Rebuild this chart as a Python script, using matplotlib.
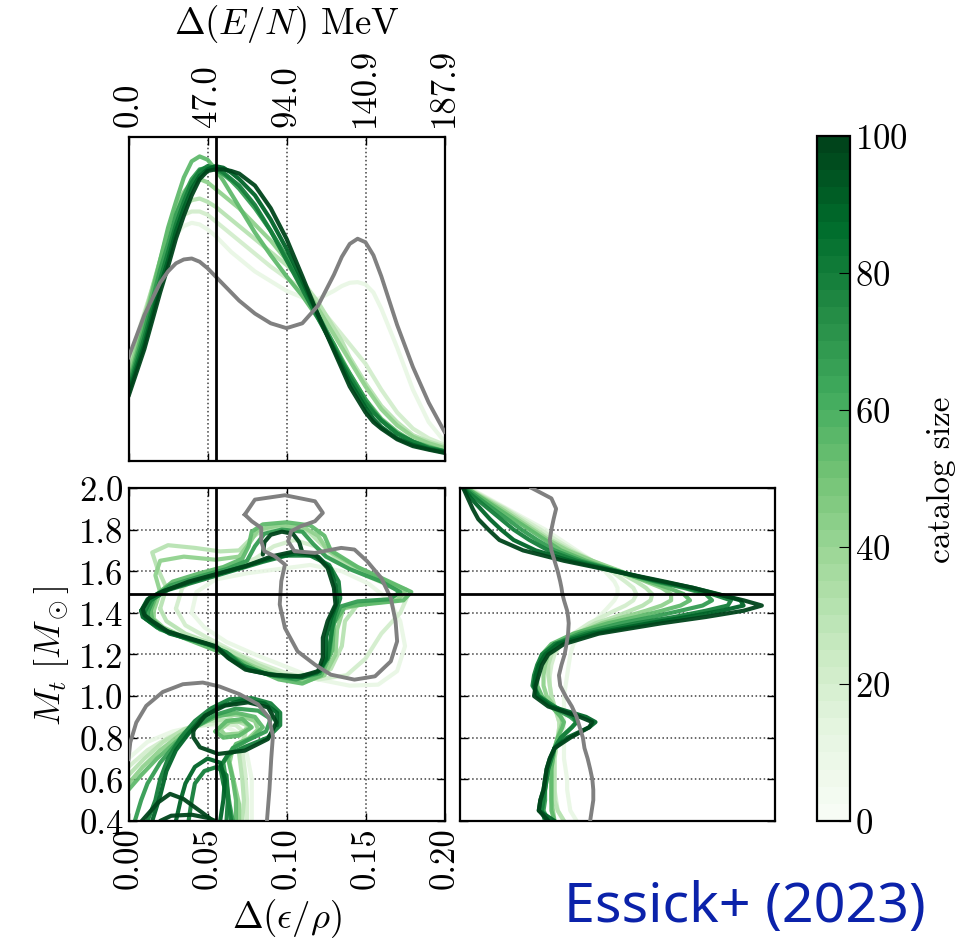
import numpy as np
import matplotlib
matplotlib.use('Agg')
import matplotlib as mpl
import matplotlib.pyplot as plt
from matplotlib.colors import Normalize

plt.rcParams['font.family'] = 'serif'
plt.rcParams['font.serif'] = ['cmr10']
plt.rcParams['mathtext.fontset'] = 'cm'
plt.rcParams['axes.formatter.use_mathtext'] = True

# #
# Data
# #

catalog_sizes = [10, 20, 30, 42, 55, 68, 80, 90, 100]
truth_eps = 0.0555
truth_mt = 1.49

# 1D marginal of Delta(eps/rho), heights as fraction of the panel
eps_grid = [0, .01, .02, .025, .03, .035, .04, .045, .05, .055, .06, .065, .07, .08, .09,
            .10, .11, .12, .13, .135, .14, .145, .15, .155, .16, .17, .18, .19, .20]
eps_prior = [.32, .45, .55, .585, .61, .622, .625, .615, .595, .57, .545, .52, .495, .455, .425,
             .41, .425, .48, .575, .63, .67, .686, .675, .635, .57, .42, .29, .18, .09]
eps_n10 = [.30, .46, .60, .655, .70, .725, .735, .73, .715, .695, .67, .645, .625, .585, .555,
           .525, .505, .50, .525, .54, .55, .552, .545, .52, .47, .35, .22, .12, .06]
eps_n20 = [.29, .455, .61, .68, .73, .76, .77, .77, .76, .74, .72, .70, .68, .64, .60,
           .565, .53, .48, .42, .39, .36, .33, .30, .26, .22, .15, .10, .07, .05]
eps_n30 = [.28, .45, .62, .69, .75, .785, .805, .81, .80, .785, .765, .745, .725, .685, .645,
           .605, .555, .49, .41, .37, .32, .28, .24, .205, .17, .12, .08, .06, .045]
eps_n42 = [.26, .44, .62, .71, .78, .83, .86, .87, .86, .84, .82, .80, .78, .73, .68,
           .62, .55, .47, .39, .35, .31, .27, .23, .195, .16, .11, .075, .055, .04]
eps_n55 = [.24, .42, .62, .72, .80, .875, .925, .94, .93, .90, .865, .825, .785, .705, .635,
           .57, .51, .44, .36, .315, .27, .23, .19, .16, .13, .09, .06, .045, .03]
eps_n68 = [.23, .40, .59, .67, .76, .82, .87, .90, .905, .90, .885, .865, .84, .78, .71,
           .63, .54, .45, .36, .31, .27, .23, .19, .155, .125, .085, .06, .042, .03]
eps_n80 = [.22, .38, .56, .645, .73, .80, .86, .895, .91, .905, .89, .87, .85, .79, .71,
           .62, .53, .44, .35, .305, .26, .22, .18, .15, .125, .085, .06, .04, .03]
eps_n90 = [.21, .36, .54, .62, .71, .78, .84, .88, .90, .91, .905, .89, .87, .82, .745,
           .655, .555, .45, .345, .295, .245, .205, .165, .13, .105, .07, .05, .037, .027]
eps_n100 = [.20, .345, .52, .60, .686, .757, .82, .87, .895, .90, .90, .895, .887, .85, .78,
            .686, .57, .45, .34, .285, .23, .19, .15, .12, .10, .067, .046, .035, .025]

# 1D marginal of M_t, widths as fraction of the panel
mt_grid = [2.0, 1.95, 1.9, 1.85, 1.8, 1.75, 1.7, 1.65, 1.6, 1.55, 1.52, 1.49, 1.46,
           1.435, 1.41, 1.38, 1.35, 1.3, 1.25, 1.2, 1.15, 1.1, 1.05, 1.0, 0.95,
           0.9, 0.875, 0.85, 0.8, 0.75, 0.7, 0.65, 0.6, 0.55, 0.5, 0.45, 0.4]
mt_prior = [.227, .29, .305, .297, .29, .285, .29, .30, .31, .318, .322, .325, .33,
            .335, .34, .343, .345, .343, .338, .332, .322, .314, .318, .335, .355,
            .37, .375, .38, .39, .395, .405, .413, .42, .423, .423, .418, .413]
mt_n10 = [.03, .09, .15, .21, .27, .32, .37, .42, .46, .49, .50, .50, .49,
          .475, .46, .44, .42, .385, .36, .35, .345, .34, .335, .33, .33,
          .33, .33, .33, .33, .33, .33, .335, .34, .34, .345, .35, .37]
mt_n20 = [.025, .085, .145, .20, .255, .305, .36, .42, .48, .525, .55, .56, .55,
          .525, .49, .45, .41, .36, .32, .30, .29, .285, .285, .29, .30,
          .31, .315, .315, .31, .305, .30, .30, .30, .30, .305, .31, .33]
mt_n30 = [.02, .08, .14, .19, .24, .29, .35, .42, .50, .56, .59, .61, .605,
          .58, .54, .49, .43, .37, .32, .29, .28, .28, .285, .29, .30,
          .31, .315, .315, .31, .305, .30, .30, .30, .30, .30, .31, .33]
mt_n42 = [.02, .075, .13, .18, .23, .28, .34, .42, .51, .59, .64, .67, .67,
          .64, .59, .52, .45, .37, .31, .28, .27, .265, .265, .275, .30,
          .32, .325, .32, .31, .30, .295, .29, .29, .29, .29, .295, .30]
mt_n55 = [.02, .07, .12, .17, .22, .27, .32, .40, .50, .60, .66, .71, .73,
          .70, .64, .56, .47, .36, .29, .26, .25, .245, .245, .26, .29,
          .32, .33, .325, .31, .30, .295, .29, .29, .29, .29, .29, .30]
mt_n68 = [.015, .06, .105, .15, .195, .245, .30, .385, .50, .62, .71, .78, .80,
          .77, .70, .61, .51, .38, .30, .265, .25, .24, .235, .25, .29,
          .35, .37, .355, .32, .30, .29, .28, .275, .27, .27, .265, .28]
mt_n80 = [.01, .05, .09, .13, .17, .22, .28, .37, .50, .63, .72, .80, .86,
          .85, .78, .68, .56, .40, .30, .26, .245, .235, .23, .25, .30,
          .36, .37, .355, .32, .30, .29, .28, .275, .27, .265, .26, .27]
mt_n90 = [.01, .035, .065, .095, .13, .17, .24, .35, .49, .64, .74, .82, .89,
          .90, .83, .72, .60, .42, .31, .27, .25, .24, .235, .245, .29,
          .40, .43, .41, .34, .30, .285, .275, .27, .265, .255, .25, .30]
mt_n100 = [.01, .025, .04, .058, .09, .125, .20, .33, .49, .65, .74, .815, .90,
           .958, .90, .78, .64, .44, .33, .28, .26, .25, .24, .235, .28,
           .38, .42, .41, .35, .30, .285, .275, .27, .265, .255, .25, .28]

# 2D contours, (Delta(eps/rho), M_t)
prior_upper = [(0.0736, 1.872), (0.080, 1.944), (0.099, 1.965), (0.118, 1.936),
               (0.123, 1.880), (0.118, 1.840), (0.109, 1.816), (0.103, 1.792),
               (0.101, 1.744), (0.105, 1.696), (0.118, 1.688), (0.1346, 1.712),
               (0.143, 1.704), (0.151, 1.648), (0.160, 1.567), (0.166, 1.471),
               (0.169, 1.360), (0.170, 1.263), (0.166, 1.167), (0.156, 1.095),
               (0.143, 1.079), (0.128, 1.103), (0.118, 1.151), (0.107, 1.215),
               (0.099, 1.327), (0.0957, 1.440), (0.0967, 1.552), (0.099, 1.632),
               (0.0925, 1.672), (0.086, 1.696), (0.084, 1.744), (0.084, 1.808),
               (0.078, 1.840), (0.0736, 1.872)]
prior_lower = [(0.000, 0.697), (0.0011, 0.777), (0.0049, 0.873), (0.0112, 0.953),
               (0.0217, 1.020), (0.0344, 1.057), (0.0470, 1.065), (0.0576, 1.046),
               (0.0703, 1.009), (0.0819, 0.961), (0.0888, 0.897), (0.0914, 0.809),
               (0.0903, 0.697), (0.0892, 0.552), (0.0876, 0.400)]

ring_n10 = [(0.040, 1.40), (0.043, 1.50), (0.055, 1.56), (0.075, 1.59), (0.095, 1.61),
            (0.115, 1.63), (0.135, 1.60), (0.152, 1.54), (0.165, 1.46), (0.172, 1.36),
            (0.175, 1.24), (0.170, 1.12), (0.158, 1.055), (0.140, 1.05), (0.120, 1.08),
            (0.100, 1.14), (0.080, 1.20), (0.062, 1.26), (0.048, 1.33), (0.040, 1.40)]
ring_n20 = [(0.030, 1.42), (0.034, 1.52), (0.045, 1.58), (0.065, 1.62), (0.080, 1.66),
            (0.092, 1.72), (0.105, 1.75), (0.118, 1.72), (0.130, 1.65), (0.150, 1.58),
            (0.168, 1.52), (0.176, 1.47), (0.172, 1.40), (0.160, 1.30), (0.150, 1.18),
            (0.138, 1.10), (0.120, 1.08), (0.100, 1.11), (0.082, 1.16), (0.065, 1.22),
            (0.050, 1.28), (0.036, 1.34), (0.030, 1.42)]
ring_n30 = [(0.020, 1.42), (0.024, 1.52), (0.018, 1.62), (0.015, 1.69), (0.025, 1.725),
            (0.042, 1.712), (0.058, 1.695), (0.070, 1.70), (0.078, 1.76), (0.085, 1.80),
            (0.100, 1.81), (0.114, 1.79), (0.122, 1.73), (0.132, 1.66), (0.150, 1.59),
            (0.168, 1.53), (0.175, 1.49), (0.165, 1.455), (0.145, 1.44), (0.137, 1.36),
            (0.135, 1.24), (0.128, 1.13), (0.114, 1.08), (0.098, 1.10), (0.082, 1.15),
            (0.066, 1.21), (0.050, 1.26), (0.036, 1.30), (0.024, 1.36), (0.020, 1.42)]
ring_n42 = [(0.016, 1.41), (0.020, 1.50), (0.017, 1.58), (0.020, 1.65), (0.035, 1.67),
            (0.055, 1.655), (0.070, 1.67), (0.077, 1.74), (0.082, 1.80), (0.095, 1.82),
            (0.110, 1.815), (0.120, 1.77), (0.126, 1.70), (0.142, 1.63), (0.160, 1.56),
            (0.176, 1.51), (0.170, 1.46), (0.150, 1.445), (0.136, 1.42), (0.132, 1.32),
            (0.131, 1.20), (0.124, 1.10), (0.112, 1.07), (0.096, 1.09), (0.080, 1.14),
            (0.066, 1.19), (0.052, 1.24), (0.036, 1.28), (0.022, 1.33), (0.016, 1.37),
            (0.016, 1.41)]
ring_n55 = [(0.014, 1.41), (0.018, 1.49), (0.028, 1.55), (0.045, 1.59), (0.060, 1.62),
            (0.072, 1.66), (0.076, 1.72), (0.078, 1.79), (0.085, 1.825), (0.100, 1.835),
            (0.115, 1.82), (0.124, 1.77), (0.128, 1.70), (0.145, 1.62), (0.165, 1.55),
            (0.179, 1.50), (0.174, 1.46), (0.155, 1.445), (0.137, 1.43), (0.130, 1.35),
            (0.129, 1.22), (0.122, 1.10), (0.110, 1.06), (0.095, 1.08), (0.080, 1.13),
            (0.068, 1.18), (0.055, 1.22), (0.038, 1.27), (0.022, 1.32), (0.015, 1.37),
            (0.014, 1.41)]
ring_n68 = [(0.012, 1.40), (0.016, 1.47), (0.026, 1.53), (0.045, 1.575), (0.062, 1.61),
            (0.075, 1.65), (0.080, 1.72), (0.086, 1.78), (0.097, 1.80), (0.110, 1.79),
            (0.117, 1.73), (0.125, 1.67), (0.140, 1.61), (0.160, 1.55), (0.172, 1.50),
            (0.165, 1.465), (0.145, 1.455), (0.134, 1.43), (0.129, 1.33), (0.127, 1.20),
            (0.121, 1.11), (0.106, 1.08), (0.090, 1.10), (0.074, 1.14), (0.064, 1.20),
            (0.052, 1.245), (0.035, 1.28), (0.020, 1.32), (0.013, 1.36), (0.012, 1.40)]
ring_n80 = [(0.010, 1.40), (0.014, 1.46), (0.025, 1.51), (0.045, 1.555), (0.065, 1.60),
            (0.085, 1.645), (0.100, 1.675), (0.115, 1.675), (0.127, 1.63), (0.133, 1.55),
            (0.134, 1.47), (0.130, 1.38), (0.128, 1.28), (0.126, 1.18), (0.119, 1.11),
            (0.103, 1.09), (0.086, 1.11), (0.071, 1.15), (0.062, 1.21), (0.050, 1.25),
            (0.034, 1.285), (0.018, 1.33), (0.011, 1.37), (0.010, 1.40)]
ring_n90 = [(0.008, 1.41), (0.012, 1.465), (0.022, 1.505), (0.040, 1.55), (0.058, 1.59),
            (0.076, 1.63), (0.092, 1.665), (0.106, 1.685), (0.120, 1.67), (0.128, 1.61),
            (0.131, 1.53), (0.132, 1.45), (0.128, 1.37), (0.125, 1.28), (0.125, 1.18),
            (0.121, 1.12), (0.110, 1.09), (0.092, 1.10), (0.076, 1.125), (0.064, 1.18),
            (0.056, 1.235), (0.043, 1.265), (0.026, 1.30), (0.015, 1.35), (0.009, 1.38),
            (0.008, 1.41)]
ring_n100 = [(0.009, 1.42), (0.013, 1.47), (0.021, 1.50), (0.038, 1.55), (0.056, 1.587),
             (0.074, 1.624), (0.090, 1.67), (0.105, 1.695), (0.118, 1.68), (0.126, 1.616),
             (0.130, 1.52), (0.131, 1.44), (0.126, 1.36), (0.123, 1.28), (0.123, 1.185),
             (0.120, 1.12), (0.109, 1.095), (0.090, 1.103), (0.074, 1.127), (0.063, 1.183),
             (0.055, 1.24), (0.042, 1.27), (0.025, 1.31), (0.015, 1.36), (0.010, 1.39),
             (0.009, 1.42)]
cap_n100 = [(0.085, 1.68), (0.086, 1.74), (0.090, 1.775), (0.097, 1.79), (0.104, 1.78),
            (0.108, 1.74), (0.110, 1.69)]

low_n10 = [(0.000, 0.70), (0.012, 0.78), (0.028, 0.83), (0.045, 0.86), (0.060, 0.86),
           (0.070, 0.82), (0.075, 0.72), (0.078, 0.60), (0.078, 0.40)]
low_n20 = [(0.000, 0.66), (0.012, 0.74), (0.025, 0.80), (0.040, 0.85), (0.055, 0.87),
           (0.068, 0.86), (0.074, 0.82), (0.072, 0.74), (0.074, 0.62), (0.075, 0.50),
           (0.075, 0.40)]
low_n30 = [(0.000, 0.62), (0.010, 0.70), (0.022, 0.78), (0.035, 0.84), (0.050, 0.88),
           (0.065, 0.89), (0.075, 0.86), (0.073, 0.80), (0.070, 0.72), (0.072, 0.60),
           (0.073, 0.50), (0.072, 0.40)]
low_n42 = [(0.000, 0.58), (0.009, 0.66), (0.020, 0.74), (0.032, 0.81), (0.045, 0.87),
           (0.058, 0.91), (0.070, 0.91), (0.080, 0.88), (0.082, 0.84), (0.075, 0.79),
           (0.066, 0.75), (0.064, 0.68), (0.067, 0.58), (0.070, 0.48), (0.070, 0.40)]
loop_n42 = [(0.058, 0.84), (0.064, 0.875), (0.073, 0.88), (0.077, 0.85), (0.070, 0.82),
            (0.061, 0.815), (0.058, 0.84)]
low_n55 = [(0.000, 0.55), (0.008, 0.62), (0.018, 0.70), (0.030, 0.78), (0.042, 0.85),
           (0.055, 0.90), (0.068, 0.92), (0.080, 0.90), (0.085, 0.85), (0.078, 0.80),
           (0.068, 0.77), (0.063, 0.70), (0.066, 0.60), (0.068, 0.50), (0.068, 0.40)]
loop_n55 = [(0.055, 0.83), (0.062, 0.88), (0.072, 0.89), (0.078, 0.85), (0.070, 0.81),
            (0.060, 0.80), (0.055, 0.83)]
low_n68 = [(0.004, 0.40), (0.008, 0.50), (0.012, 0.58), (0.020, 0.68), (0.030, 0.77),
           (0.042, 0.85), (0.055, 0.91), (0.068, 0.94), (0.082, 0.93), (0.090, 0.89),
           (0.087, 0.83), (0.076, 0.79), (0.066, 0.75), (0.060, 0.68), (0.062, 0.58),
           (0.064, 0.48), (0.066, 0.40)]
low_n80 = [(0.012, 0.40), (0.017, 0.50), (0.020, 0.60), (0.025, 0.70), (0.033, 0.80),
           (0.042, 0.88), (0.052, 0.94), (0.064, 0.985), (0.078, 0.99), (0.090, 0.965),
           (0.096, 0.92), (0.096, 0.86), (0.088, 0.80), (0.075, 0.76), (0.063, 0.72),
           (0.058, 0.66), (0.060, 0.58), (0.063, 0.50), (0.065, 0.40)]
lobe_n80 = [(0.038, 0.40), (0.040, 0.50), (0.042, 0.58), (0.048, 0.64), (0.056, 0.66),
            (0.062, 0.62), (0.063, 0.52), (0.062, 0.40)]
low_n90 = [(0.015, 0.40), (0.020, 0.52), (0.024, 0.64), (0.030, 0.74), (0.038, 0.82),
           (0.046, 0.89), (0.058, 0.95), (0.072, 0.98), (0.086, 0.965), (0.094, 0.92),
           (0.094, 0.86)]
lobe_n90 = [(0.030, 0.40), (0.033, 0.50), (0.036, 0.58), (0.042, 0.66), (0.050, 0.70),
            (0.058, 0.68), (0.061, 0.60), (0.060, 0.50), (0.058, 0.40)]
loop_n100 = [(0.041, 0.834), (0.0484, 0.906), (0.061, 0.954), (0.0757, 0.970),
             (0.0883, 0.946), (0.0936, 0.874), (0.0883, 0.794), (0.0736, 0.738),
             (0.0568, 0.722), (0.0452, 0.754), (0.041, 0.802), (0.041, 0.834)]
zig_n100 = [(0.0084, 0.40), (0.0189, 0.49), (0.0263, 0.53), (0.0347, 0.506),
            (0.0463, 0.442), (0.0536, 0.40)]
arc_n100 = [(0.020, 0.40), (0.027, 0.425), (0.040, 0.43), (0.050, 0.415), (0.055, 0.40)]

eps_curves = [eps_n10, eps_n20, eps_n30, eps_n42, eps_n55, eps_n68, eps_n80, eps_n90, eps_n100]
mt_curves = [mt_n10, mt_n20, mt_n30, mt_n42, mt_n55, mt_n68, mt_n80, mt_n90, mt_n100]
contours = [[ring_n10, low_n10],
            [ring_n20, low_n20],
            [ring_n30, low_n30],
            [ring_n42, low_n42, loop_n42],
            [ring_n55, low_n55, loop_n55],
            [ring_n68, low_n68],
            [ring_n80, low_n80, lobe_n80],
            [ring_n90, low_n90, lobe_n90],
            [ring_n100, cap_n100, loop_n100, zig_n100, arc_n100]]

# #
# Plotting
# #

cmap = plt.get_cmap('Greens')
norm = Normalize(vmin=0, vmax=100)
line_kw = dict(lw=3.0, alpha=0.95, solid_joinstyle='round', solid_capstyle='round')
prior_kw = dict(color='grey', lw=2.8, solid_joinstyle='round', zorder=5)
grid_kw = dict(ls=':', color='0.25', lw=1.1)
truth_kw = dict(color='k', lw=2.0, zorder=6)

fig = plt.figure(figsize=(9.57, 9.45), dpi=100)
ax_top = fig.add_axes([0.1343, 0.5111, 0.3302, 0.3429])
ax_2d = fig.add_axes([0.1343, 0.1302, 0.3302, 0.3524])
ax_mt = fig.add_axes([0.4807, 0.1302, 0.3292, 0.3524])
cax = fig.add_axes([0.8537, 0.1302, 0.0345, 0.7249])

# top: Delta(eps/rho) marginal
for size, ys in zip(catalog_sizes, eps_curves):
    ax_top.plot(eps_grid, ys, color=cmap(norm(size)), **line_kw)
ax_top.plot(eps_grid, eps_prior, **prior_kw)
ax_top.axvline(truth_eps, **truth_kw)
ax_top.set_xlim(0, 0.2)
ax_top.set_ylim(0, 1)
ax_top.set_yticks([])
ax_top.xaxis.tick_top()
ax_top.xaxis.set_label_position('top')
ax_top.set_xticks([0, 0.05, 0.10, 0.15, 0.20])
ax_top.set_xticklabels(['0.0', '47.0', '94.0', '140.9', '187.9'], rotation=90)
ax_top.set_xlabel(r'$\Delta(E/N)$ MeV', labelpad=10)
ax_top.grid(axis='x', **grid_kw)

# bottom left: joint contours
for size, paths in zip(catalog_sizes, contours):
    for path in paths:
        xs = [p[0] for p in path]
        ms = [p[1] for p in path]
        ax_2d.plot(xs, ms, color=cmap(norm(size)), **line_kw)
for path in (prior_upper, prior_lower):
    ax_2d.plot([p[0] for p in path], [p[1] for p in path], **prior_kw)
ax_2d.axvline(truth_eps, **truth_kw)
ax_2d.axhline(truth_mt, **truth_kw)
ax_2d.set_xlim(0, 0.2)
ax_2d.set_ylim(0.4, 2.0)
ax_2d.set_xticks([0, 0.05, 0.10, 0.15, 0.20])
ax_2d.set_xticklabels(['0.00', '0.05', '0.10', '0.15', '0.20'], rotation=90)
ax_2d.set_yticks(np.arange(0.4, 2.01, 0.2))
ax_2d.set_yticklabels(['%.1f' % v for v in np.arange(0.4, 2.01, 0.2)])
ax_2d.set_xlabel(r'$\Delta(\epsilon/\rho)$', labelpad=6)
ax_2d.set_ylabel(r'$M_t\ [M_\odot]$', labelpad=6)
ax_2d.grid(**grid_kw)

# bottom right: M_t marginal
for size, xs in zip(catalog_sizes, mt_curves):
    ax_mt.plot(xs, mt_grid, color=cmap(norm(size)), **line_kw)
ax_mt.plot(mt_prior, mt_grid, **prior_kw)
ax_mt.axhline(truth_mt, **truth_kw)
ax_mt.set_xlim(0, 1)
ax_mt.set_ylim(0.4, 2.0)
ax_mt.set_xticks([])
ax_mt.set_yticks(np.arange(0.4, 2.01, 0.2))
ax_mt.tick_params(labelleft=False)
ax_mt.grid(axis='y', **grid_kw)

for ax in (ax_top, ax_2d, ax_mt):
    ax.tick_params(direction='in', length=6, width=1.0, labelsize=25,
                   top=True, right=True, bottom=True, left=True)
    for s in ax.spines.values():
        s.set_linewidth(1.6)
    ax.xaxis.label.set_size(26.5)
    ax.yaxis.label.set_size(26)
ax_top.tick_params(labelbottom=False, pad=8)

# colorbar
cb = mpl.colorbar.ColorbarBase(cax, cmap=plt.get_cmap('Greens', 40), norm=norm)
cb.set_ticks([0, 20, 40, 60, 80, 100])
cb.ax.tick_params(direction='in', length=8, labelsize=25)
cb.outline.set_linewidth(1.6)
cb.set_label('catalog size', fontsize=24, labelpad=14)

fig.text(0.589, 0.040, 'Essick+ (2023)', color='#0b22aa', fontsize=40,
         family='Noto Sans', ha='left', va='center')

fig.savefig('out.png', dpi=100)
